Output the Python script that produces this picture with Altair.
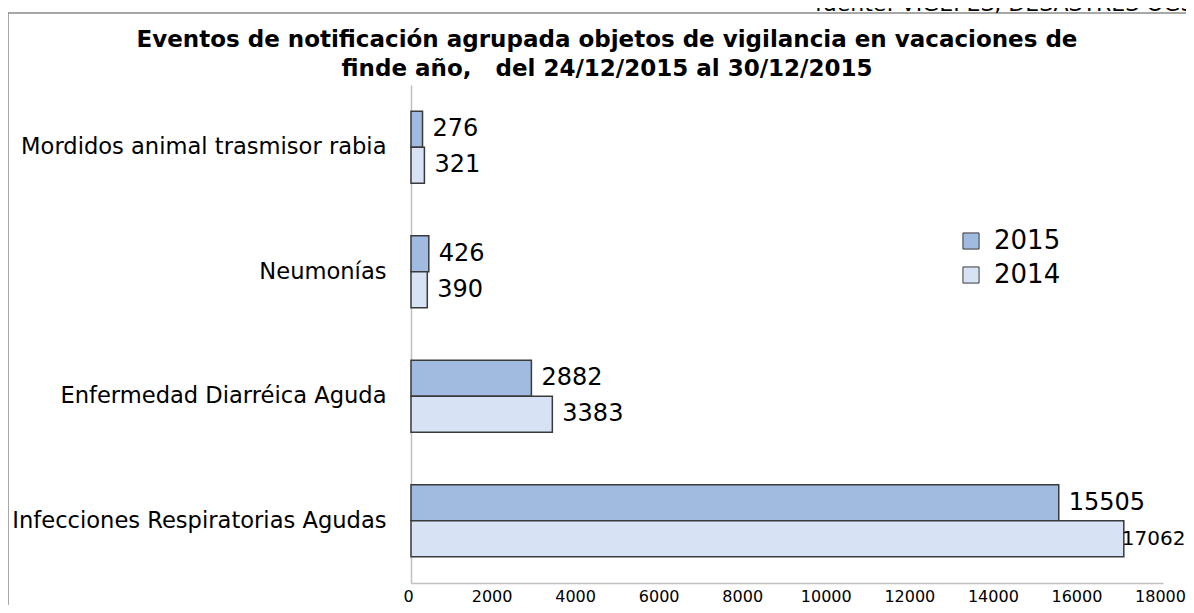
import altair as alt
import pandas as pd

categories = [
    "Mordidos animal trasmisor rabia",
    "Neumonías",
    "Enfermedad Diarréica Aguda",
    "Infecciones Respiratorias Agudas",
]
years = ["2015", "2014"]
values_2015 = [276, 426, 2882, 15505]
values_2014 = [321, 390, 3383, 17062]
x_ticks = [0, 2000, 4000, 6000, 8000, 10000, 12000, 14000, 16000, 18000]
title_line1 = "Eventos de notificación agrupada objetos de vigilancia en vacaciones de"
title_line2 = "finde año,\u00a0\u00a0 del 24/12/2015 al 30/12/2015"
source_text = "fuente: VIGEPES, DESASTRES OGS"

rows = []
for c, a, b in zip(categories, values_2015, values_2014):
    rows.append({"Evento": c, "Año": "2015", "Valor": a})
    rows.append({"Evento": c, "Año": "2014", "Valor": b})
df = pd.DataFrame(rows)

y_enc = alt.Y("Evento:N", sort=categories,
              scale=alt.Scale(paddingInner=0.42, paddingOuter=0.21),
              axis=alt.Axis(title=None, ticks=False, labelPadding=25, labelLimit=0,
                            labelFont="DejaVu Sans", labelFontSize=22.6, labelColor="#000000",
                            domainColor="#bfbfbf", domainWidth=1.5))
yoff = alt.YOffset("Año:N", sort=years)
x_enc = alt.X("Valor:Q", scale=alt.Scale(domain=[0, 18000], nice=False),
              axis=alt.Axis(title=None, values=x_ticks, format="d", grid=False, ticks=False,
                            labelFlush=False, labelPadding=5, labelOffset=-3,
                            labelFont="DejaVu Sans", labelFontSize=16, labelColor="#000000",
                            domainColor="#bfbfbf", domainWidth=1.5))

base = alt.Chart(df)
bars = base.mark_bar(stroke="#3a3a3a", strokeWidth=1.5).encode(
    y=y_enc, yOffset=yoff, x=x_enc,
    color=alt.Color("Año:N", sort=years,
                    scale=alt.Scale(domain=years, range=["#a0bae0", "#d7e3f4"]),
                    legend=alt.Legend(title=None, orient="none", legendX=547, legendY=143,
                                      labelFont="DejaVu Sans", labelFontSize=26,
                                      labelColor="#000000", symbolType="square",
                                      symbolSize=260, symbolStrokeColor="#3a3a3a",
                                      symbolStrokeWidth=1, labelOffset=10,
                                      rowPadding=8, padding=0)),
)
label_enc = dict(
    y=alt.Y("Evento:N", sort=categories), yOffset=yoff, x="Valor:Q",
    text=alt.Text("Valor:Q", format="d"),
)
labels = base.mark_text(align="left", baseline="middle", dx=10,
                        font="DejaVu Sans", fontSize=24, color="#000000").encode(
    **label_enc).transform_filter("datum.Valor < 17000")
# the longest bar's label sits tight against the bar end, as in the reference
labels_edge = base.mark_text(align="left", baseline="middle", dx=-2,
                             font="DejaVu Sans", fontSize=20, color="#000000").encode(
    **label_enc).transform_filter("datum.Valor >= 17000")

one = pd.DataFrame({"k": [0]})
frame = alt.Chart(one).mark_rect(fill=None, stroke="#8c8c8c", strokeWidth=1.5).encode(
    x=alt.value(-403), x2=alt.value(800), y=alt.value(-72), y2=alt.value(560)
)
source = alt.Chart(one).mark_text(align="left", baseline="alphabetic",
                                  font="DejaVu Sans", fontSize=22, color="#000000").encode(
    x=alt.value(404), y=alt.value(-74), text=alt.value(source_text)
)
title1 = alt.Chart(one).mark_text(align="center", baseline="alphabetic", font="DejaVu Sans",
                                  fontSize=23, fontWeight="bold", color="#000000").encode(
    x=alt.value(196), y=alt.value(-38), text=alt.value(title_line1)
)
title2 = alt.Chart(one).mark_text(align="center", baseline="alphabetic", font="DejaVu Sans",
                                  fontSize=23, fontWeight="bold", color="#000000").encode(
    x=alt.value(196), y=alt.value(-9), text=alt.value(title_line2)
)

chart = alt.layer(frame, source, title1, title2, bars, labels, labels_edge).properties(
    width=752, height=498,
    background="white",
    autosize=alt.AutoSizeParams(type="none"),
    padding={"left": 403, "top": 77, "right": 23, "bottom": 22},
).configure_view(stroke="transparent")

chart.save("out.html", embed_options={"renderer": "svg", "actions": False})
